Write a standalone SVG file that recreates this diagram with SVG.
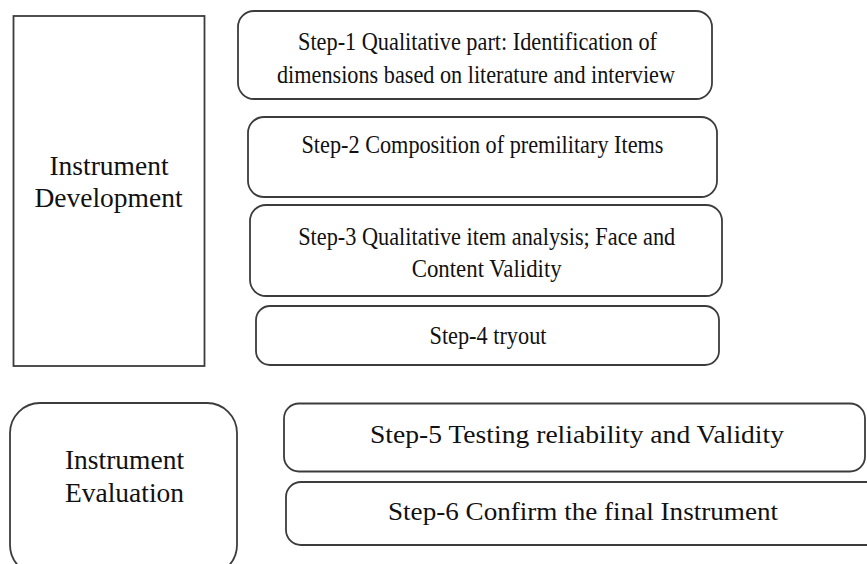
<svg xmlns="http://www.w3.org/2000/svg" width="867" height="564" viewBox="0 0 867 564">
  <style>
    .box { fill: #ffffff; stroke: #3c3c3c; stroke-width: 1.8; }
    .lbl { font-family: "Liberation Serif", "Times New Roman", serif; font-size: 27.5px; fill: #111111; text-anchor: middle; }
    .step { font-family: "Liberation Serif", "Times New Roman", serif; font-size: 26px; fill: #111111; text-anchor: middle; }
  </style>
  <rect width="867" height="564" fill="#ffffff"/>

  <!-- Phase: development -->
  <g id="instrument-development">
    <rect class="box" x="13.5" y="16" width="191" height="350"/>
    <text class="lbl" x="109" y="175">Instrument</text>
    <text class="lbl" x="108.5" y="207">Development</text>
  </g>

  <g id="step-1">
    <rect class="box" x="238" y="11" width="474" height="88" rx="16"/>
    <text class="step" x="477.5" y="50" textLength="359" lengthAdjust="spacingAndGlyphs">Step-1 Qualitative part: Identification of</text>
    <text class="step" x="476" y="83" textLength="398" lengthAdjust="spacingAndGlyphs">dimensions based on literature and interview</text>
  </g>

  <g id="step-2">
    <rect class="box" x="248" y="117" width="469" height="80" rx="16"/>
    <text class="step" x="482.5" y="153" textLength="362" lengthAdjust="spacingAndGlyphs">Step-2 Composition of premilitary Items</text>
  </g>

  <g id="step-3">
    <rect class="box" x="250" y="205" width="472" height="91" rx="16"/>
    <text class="step" x="486.7" y="245" textLength="377" lengthAdjust="spacingAndGlyphs">Step-3 Qualitative item analysis; Face and</text>
    <text class="step" x="486.7" y="277" textLength="150" lengthAdjust="spacingAndGlyphs">Content Validity</text>
  </g>

  <g id="step-4">
    <rect class="box" x="256" y="306" width="463" height="59" rx="14"/>
    <text class="step" x="488" y="344" textLength="117" lengthAdjust="spacingAndGlyphs">Step-4 tryout</text>
  </g>

  <!-- Phase: evaluation -->
  <g id="instrument-evaluation">
    <rect class="box" x="10" y="403" width="227" height="172" rx="30"/>
    <text class="lbl" x="124.5" y="469">Instrument</text>
    <text class="lbl" x="124.5" y="502">Evaluation</text>
  </g>

  <g id="step-5">
    <rect class="box" x="284" y="403.5" width="581" height="68" rx="15"/>
    <text class="step" x="577" y="443" textLength="414" lengthAdjust="spacingAndGlyphs">Step-5 Testing reliability and Validity</text>
  </g>

  <g id="step-6">
    <rect class="box" x="286" y="482" width="600" height="63" rx="15"/>
    <text class="step" x="583" y="520" textLength="390" lengthAdjust="spacingAndGlyphs">Step-6 Confirm the final Instrument</text>
  </g>

  <g id="connectors"></g>
</svg>
